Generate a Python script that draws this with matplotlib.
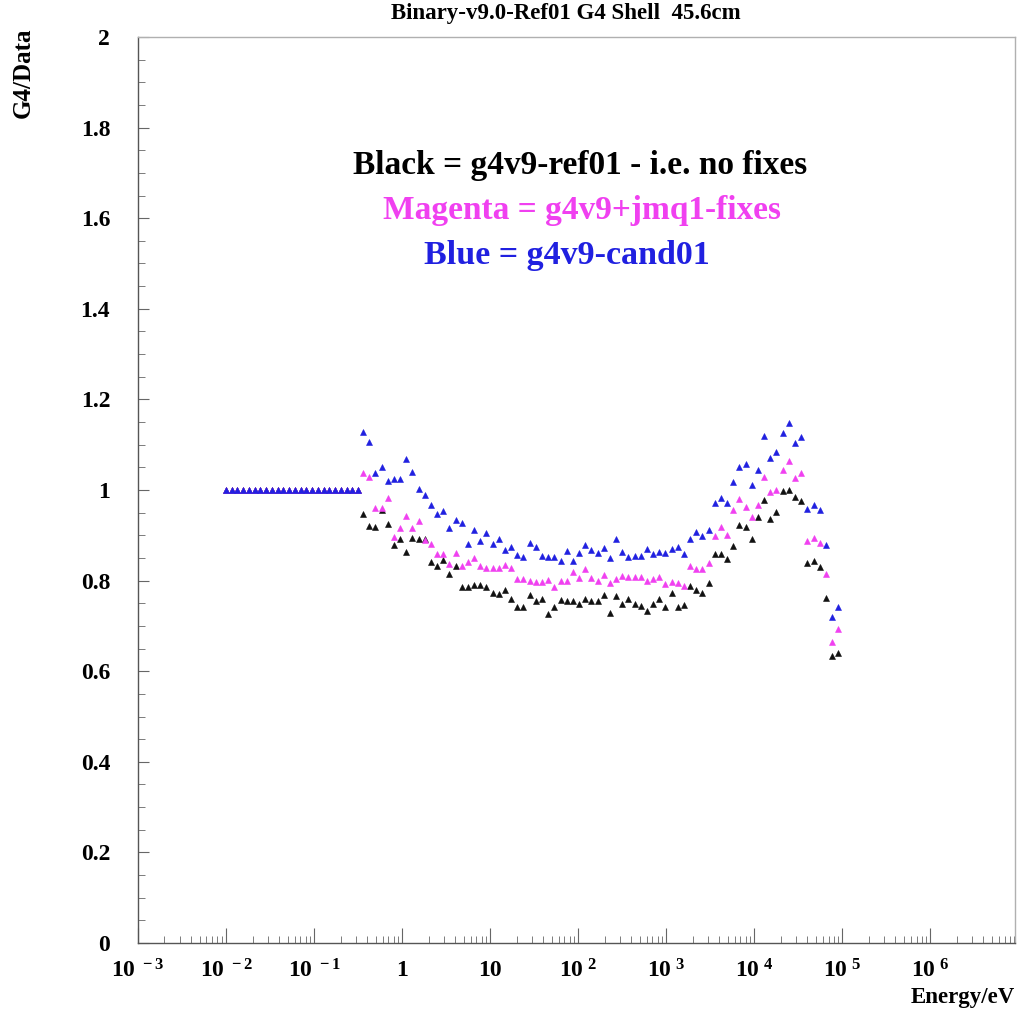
import numpy as np
import matplotlib
matplotlib.use("Agg")
import matplotlib.pyplot as plt
from matplotlib.ticker import FixedLocator, FixedFormatter, LogLocator, NullFormatter, MultipleLocator

# ---------------- data ----------------
# low-energy flat region (all three samples identical = 1)
flat_logE_range = (-2.0, -0.5)
flat_n = 24
flat_values = [1.0] * flat_n

# main energy grid (log-uniform bins)
main_logE_range = (-0.443, 4.955)

black = [0.947, 0.921, 0.918, 0.956, 0.925, 0.879, 0.892, 0.863, 0.894, 0.892,
         0.892, 0.841, 0.832, 0.845, 0.815, 0.832, 0.786, 0.786, 0.790, 0.790,
         0.786, 0.773, 0.770, 0.779, 0.759,
         0.742, 0.742, 0.768, 0.755, 0.759, 0.726, 0.742, 0.757, 0.755, 0.755,
         0.748, 0.759, 0.755, 0.755, 0.768, 0.728, 0.766, 0.748, 0.759, 0.748,
         0.744, 0.733, 0.748, 0.759,
         0.742, 0.773, 0.742, 0.746, 0.788, 0.779, 0.773, 0.795, 0.859, 0.859,
         0.848, 0.876, 0.923, 0.918, 0.892, 0.940,
         0.978, 0.936, 0.951, 0.998, 1.000, 0.985, 0.976, 0.839, 0.843, 0.830,
         0.762, 0.634, 0.640]

magenta = [1.037, 1.029, 0.960, 0.960, 0.982, 0.896, 0.916, 0.943, 0.916, 0.932,
           0.890, 0.881, 0.859, 0.859, 0.837, 0.861, 0.832, 0.841, 0.850, 0.832,
           0.828, 0.828, 0.828, 0.834, 0.828,
           0.804, 0.804, 0.799, 0.797, 0.797, 0.801, 0.786, 0.799, 0.799, 0.819,
           0.806, 0.826, 0.806, 0.799, 0.812, 0.795, 0.804, 0.810, 0.808, 0.808,
           0.808, 0.799, 0.804, 0.808,
           0.792, 0.797, 0.795, 0.788, 0.832, 0.826, 0.826, 0.839, 0.898, 0.918,
           0.901, 0.956, 0.980, 0.962, 0.940, 0.967,
           1.029, 0.996, 1.000, 1.044, 1.064, 1.026, 1.038, 0.887, 0.894, 0.883,
           0.815, 0.664, 0.693]

blue = [1.128, 1.106, 1.037, 1.051, 1.020, 1.024, 1.024, 1.068, 1.040, 1.002,
        0.989, 0.967, 0.947, 0.954, 0.916, 0.934, 0.927, 0.881, 0.912, 0.887,
        0.905, 0.881, 0.892, 0.868, 0.874,
        0.857, 0.852, 0.883, 0.874, 0.854, 0.852, 0.852, 0.843, 0.865, 0.843,
        0.861, 0.879, 0.868, 0.861, 0.872, 0.850, 0.892, 0.863, 0.852, 0.854,
        0.854, 0.870, 0.859, 0.863,
        0.861, 0.870, 0.874, 0.859, 0.892, 0.907, 0.898, 0.912, 0.971, 0.982,
        0.971, 1.018, 1.051, 1.057, 1.011, 1.044,
        1.119, 1.071, 1.084, 1.126, 1.148, 1.104, 1.117, 0.958, 0.967, 0.956,
        0.879, 0.720, 0.742]

x_tick_values = [1e-3, 1e-2, 1e-1, 1, 10, 1e2, 1e3, 1e4, 1e5, 1e6]
x_tick_labels = [r"$10^{\ -3}$", r"$10^{\ -2}$", r"$10^{\ -1}$", "1", "10",
                 r"$10^{\ 2}$", r"$10^{\ 3}$", r"$10^{\ 4}$", r"$10^{\ 5}$", r"$10^{\ 6}$"]
y_tick_values = [0, 0.2, 0.4, 0.6, 0.8, 1, 1.2, 1.4, 1.6, 1.8, 2]
y_tick_labels = ["0", "0.2", "0.4", "0.6", "0.8", "1", "1.2", "1.4", "1.6", "1.8", "2"]

# ---------------- figure ----------------
W, H = 1019, 1013
plt.rcParams["font.family"] = ["Liberation Serif", "DejaVu Serif"]
plt.rcParams["font.weight"] = "bold"
plt.rcParams["mathtext.fontset"] = "custom"
plt.rcParams["mathtext.rm"] = "Liberation Serif:bold"
plt.rcParams["mathtext.bf"] = "Liberation Serif:bold"
plt.rcParams["mathtext.it"] = "Liberation Serif:bold"

fig = plt.figure(figsize=(W / 100, H / 100), dpi=100)
L, R, T, B = 138, 1015, 37, 943
ax = fig.add_axes([L / W, 1 - B / H, (R - L) / W, (B - T) / H])

E_flat = np.logspace(flat_logE_range[0], flat_logE_range[1], flat_n)
E_main = np.logspace(main_logE_range[0], main_logE_range[1], len(black))

mk = dict(marker="^", linestyle="none", markersize=4.0, markeredgewidth=0.4)
for vals, col in [(black, "#111111"), (magenta, "#f040f0"), (blue, "#2020e0")]:
    ax.plot(E_flat, flat_values, color=col, **mk)
    ax.plot(E_main, vals, color=col, **mk)

ax.set_xscale("log")
ax.set_xlim(1e-3, 9.2e6)
ax.set_ylim(0, 2)

ax.xaxis.set_major_locator(FixedLocator(x_tick_values))
ax.xaxis.set_major_formatter(FixedFormatter(x_tick_labels))
ax.xaxis.set_minor_locator(LogLocator(base=10, subs=np.arange(2, 10), numticks=30))
ax.xaxis.set_minor_formatter(NullFormatter())
ax.yaxis.set_major_locator(FixedLocator(y_tick_values))
ax.yaxis.set_major_formatter(FixedFormatter(y_tick_labels))
ax.yaxis.set_minor_locator(MultipleLocator(0.05))

ax.tick_params(axis="both", which="both", direction="in", top=False, right=False,
               color="#666666")
ax.tick_params(axis="x", which="major", length=11, width=0.8, pad=12, labelsize=17)
ax.tick_params(axis="x", which="minor", length=5, width=0.6)
ax.tick_params(axis="y", which="major", length=8, width=0.8, pad=20, labelsize=17)
ax.tick_params(axis="y", which="minor", length=5, width=0.6)
for lab in ax.get_xticklabels() + ax.get_yticklabels():
    lab.set_fontweight("bold")

for s in ["left", "bottom"]:
    ax.spines[s].set_color("#555555")
    ax.spines[s].set_linewidth(1.0)
for s in ["top", "right"]:
    ax.spines[s].set_color("#b0b0b0")
    ax.spines[s].set_linewidth(1.0)

# annotations
ax.text(0.504, 0.858, "Black = g4v9-ref01 - i.e. no fixes", transform=ax.transAxes,
        ha="center", va="center", fontsize=24, fontweight="bold", color="black")
ax.text(0.506, 0.809, "Magenta = g4v9+jmq1-fixes", transform=ax.transAxes,
        ha="center", va="center", fontsize=24, fontweight="bold", color="#f040f0")
ax.text(0.489, 0.759, "Blue = g4v9-cand01", transform=ax.transAxes,
        ha="center", va="center", fontsize=24.5, fontweight="bold", color="#2020e0")

fig.text(566 / W, 1 - 13 / H, "Binary-v9.0-Ref01 G4 Shell  45.6cm", ha="center",
         va="center", fontsize=16.5, fontweight="bold")
fig.text(23 / W, 1 - 28 / H, "G4/Data", rotation=90, ha="center", va="top",
         fontsize=18, fontweight="bold")
fig.text(1015 / W, 1 - 997 / H, "Energy/eV", ha="right", va="center",
         fontsize=16.5, fontweight="bold")

fig.savefig("out.png", dpi=100, facecolor="white")
